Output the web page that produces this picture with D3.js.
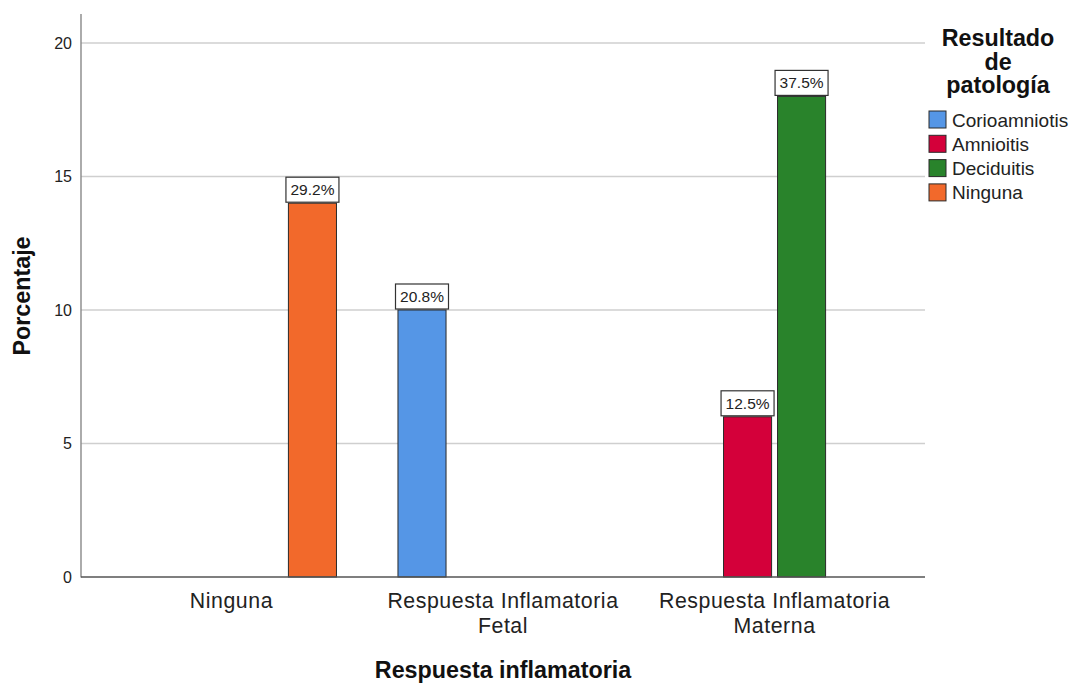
<!DOCTYPE html>
<html>
<head>
<meta charset="utf-8">
<script src="https://cdn.jsdelivr.net/npm/d3@7"></script>
<style>
  html, body { margin: 0; padding: 0; background: #fff; }
  svg { display: block; font-family: Arial, "Liberation Sans", sans-serif; }
</style>
</head>
<body>
<svg id="chart" width="1071" height="683"></svg>
<script>
// Inflammatory response categories (x axis)
const categories = ["Ninguna", "Respuesta Inflamatoria Fetal", "Respuesta Inflamatoria Materna"];
const categoryLines = [["Ninguna"], ["Respuesta Inflamatoria", "Fetal"], ["Respuesta Inflamatoria", "Materna"]];

// Pathology result series (legend order)
const series = ["Corioamniotis", "Amnioitis", "Deciduitis", "Ninguna"];
const seriesColors = ["#5596E6", "#D4003A", "#29832B", "#F2692B"];

// Case counts per category/series (bar heights); percentages are share of total
const barCategory = ["Ninguna", "Respuesta Inflamatoria Fetal", "Respuesta Inflamatoria Materna", "Respuesta Inflamatoria Materna"];
const barSeries   = ["Ninguna", "Corioamniotis", "Amnioitis", "Deciduitis"];
const barCounts   = [14, 10, 6, 18];

const yTicks = [0, 5, 10, 15, 20];

const total = d3.sum(barCounts);
const bars = barCounts.map((v, i) => ({
  category: barCategory[i], series: barSeries[i], value: v,
  pct: (v / total * 100).toFixed(1) + "%"
}));

const svg = d3.select("#chart");
const plot = { left: 81, right: 925, top: 14, bottom: 577 };

const y = d3.scaleLinear().domain([0, 20]).range([plot.bottom, 43]);
const x = d3.scalePoint().domain(categories).range([plot.left, plot.right]).padding(0.554);
const xInner = d3.scaleBand().domain(series).range([-108, 108]).paddingInner(0.11).paddingOuter(0.055);
const color = d3.scaleOrdinal().domain(series).range(seriesColors);

// Gridlines
svg.append("g")
  .selectAll("line").data(yTicks.filter(t => t > 0)).join("line")
  .attr("x1", plot.left).attr("x2", plot.right)
  .attr("y1", d => y(d)).attr("y2", d => y(d))
  .attr("stroke", "#cfcfcf").attr("stroke-width", 1.6);

// Y axis
const yAxis = svg.append("g").attr("transform", `translate(${plot.left},0)`)
  .call(d3.axisLeft(y).tickValues(yTicks).tickSize(0).tickPadding(9));
yAxis.select(".domain").remove();
yAxis.selectAll("text").attr("font-size", 16).attr("fill", "#222")
  .attr("font-family", "Arial, 'Liberation Sans', sans-serif");
svg.append("line").attr("x1", plot.left).attr("x2", plot.left)
  .attr("y1", plot.top).attr("y2", plot.bottom + 0.5)
  .attr("stroke", "#888").attr("stroke-width", 1.4);

// Bars
const barG = svg.append("g");
barG.selectAll("rect").data(bars).join("rect")
  .attr("x", d => x(d.category) + xInner(d.series))
  .attr("width", xInner.bandwidth())
  .attr("y", d => y(d.value))
  .attr("height", d => y(0) - y(d.value))
  .attr("fill", d => color(d.series))
  .attr("stroke", "#2a2a2a").attr("stroke-width", 1);

// X axis baseline
svg.append("line").attr("x1", plot.left).attr("x2", plot.right)
  .attr("y1", plot.bottom).attr("y2", plot.bottom)
  .attr("stroke", "#555").attr("stroke-width", 1.4);

// Percentage labels in boxes above bars
const lab = svg.append("g").selectAll("g").data(bars).join("g")
  .attr("transform", d => `translate(${x(d.category) + xInner(d.series) + xInner.bandwidth() / 2},${y(d.value)})`);
lab.append("rect")
  .attr("x", -26.5).attr("y", -26).attr("width", 53).attr("height", 25)
  .attr("fill", "#fff").attr("stroke", "#333").attr("stroke-width", 1.2);
lab.append("text")
  .attr("text-anchor", "middle").attr("y", -8)
  .attr("font-size", 15.5).attr("fill", "#222")
  .text(d => d.pct);

// X tick labels
const xt = svg.append("g").selectAll("text").data(categories).join("text")
  .attr("text-anchor", "middle")
  .attr("font-size", 21.3).attr("letter-spacing", 0.55).attr("fill", "#222");
xt.each(function (d, i) {
  d3.select(this).selectAll("tspan").data(categoryLines[i]).join("tspan")
    .attr("x", x(d)).attr("y", (t, j) => 608 + j * 24.5).text(t => t);
});

// Axis titles
svg.append("text")
  .attr("x", 503).attr("y", 678).attr("text-anchor", "middle")
  .attr("font-size", 23.3).attr("font-weight", "bold").attr("fill", "#111")
  .text("Respuesta inflamatoria");
svg.append("text")
  .attr("transform", "translate(30,296) rotate(-90)").attr("text-anchor", "middle")
  .attr("font-size", 23.3).attr("font-weight", "bold").attr("fill", "#111")
  .text("Porcentaje");

// Legend
const legend = svg.append("g");
legend.selectAll("text.title").data(["Resultado", "de", "patología"]).join("text")
  .attr("class", "title")
  .attr("x", 998).attr("y", (d, i) => 46 + i * 23.5)
  .attr("text-anchor", "middle").attr("font-size", 23.3).attr("font-weight", "bold").attr("fill", "#111")
  .text(d => d);
const li = legend.selectAll("g.item").data(series).join("g")
  .attr("class", "item")
  .attr("transform", (d, i) => `translate(929,${111 + i * 24.3})`);
li.append("rect").attr("width", 17).attr("height", 17)
  .attr("fill", d => color(d)).attr("stroke", "#2a2a2a").attr("stroke-width", 1);
li.append("text").attr("x", 23).attr("y", 15.5)
  .attr("font-size", 19).attr("fill", "#222").text(d => d);
</script>
</body>
</html>
